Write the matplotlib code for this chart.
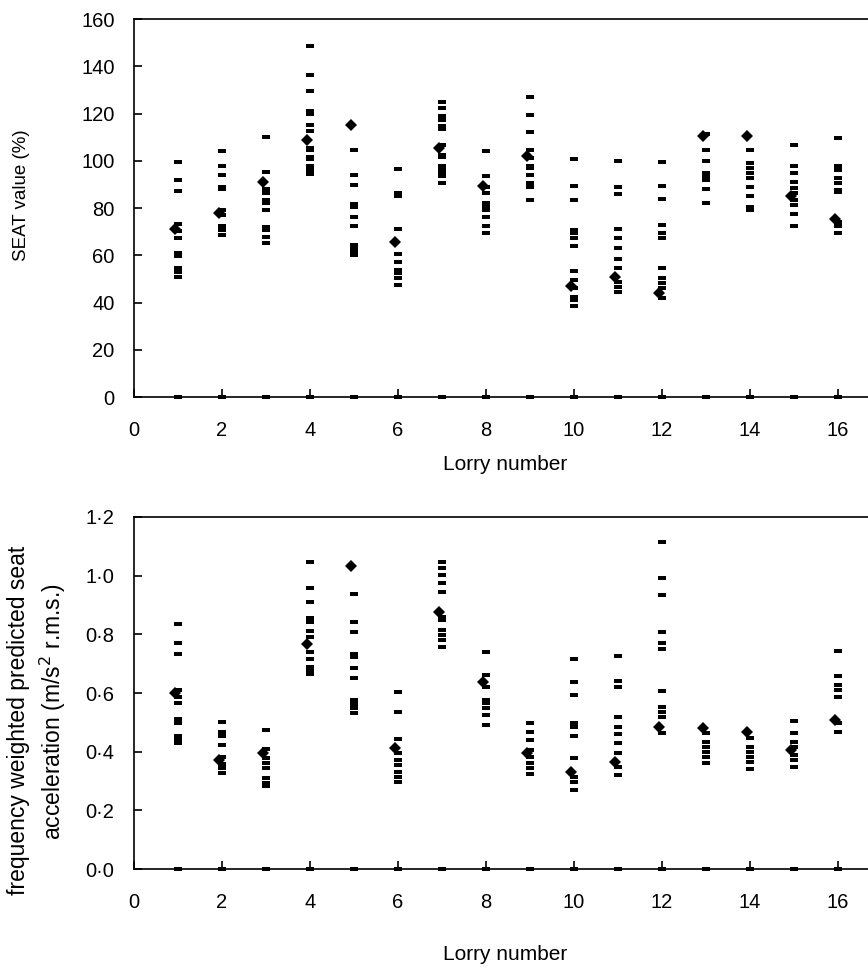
import matplotlib
matplotlib.use('Agg')
import matplotlib.pyplot as plt
from matplotlib.transforms import ScaledTranslation

plt.rcParams['font.family'] = ['Liberation Sans', 'DejaVu Sans']

# Lorry numbers 1..16
lorries = list(range(1, 17))

# SEAT values (%) for each lorry (squares), 0 marks included
seat_points = [
    [0, 99.4, 91.9, 87.3, 73.2, 70.1, 67.2, 60.9, 59.5, 54.5, 53.1, 51.0],
    [0, 104.2, 98.0, 94.1, 89.1, 88.1, 79.2, 77.1, 72.6, 70.8, 68.6],
    [0, 110.2, 95.1, 88.1, 86.3, 83.2, 82.1, 79.2, 71.9, 70.5, 67.9, 65.4],
    [0, 148.4, 136.2, 129.4, 120.9, 119.9, 115.3, 112.8, 105.4, 104.7, 101.8, 100.7, 97.6, 96.2, 94.3],
    [0, 104.7, 94.1, 89.8, 81.8, 80.6, 76.0, 72.2, 64.4, 63.0, 61.6, 60.2],
    [0, 96.6, 86.3, 85.2, 71.2, 60.6, 57.3, 53.8, 52.4, 50.3, 47.5],
    [0, 124.9, 122.3, 118.8, 117.4, 114.8, 113.4, 106.8, 102.5, 101.6, 97.6, 96.2, 94.8, 93.4, 90.5],
    [0, 104.1, 93.4, 89.1, 86.3, 82.1, 80.6, 79.2, 76.1, 72.2, 69.3],
    [0, 126.8, 119.5, 112.2, 104.7, 101.1, 97.6, 96.9, 94.1, 90.5, 89.1, 83.5],
    [0, 100.8, 89.4, 83.3, 70.8, 69.6, 67.2, 64.0, 53.4, 49.6, 46.0, 42.5, 41.1, 38.6],
    [0, 100.1, 89.1, 86.0, 71.2, 67.2, 63.0, 58.5, 54.5, 48.9, 46.7, 44.6],
    [0, 99.4, 89.4, 84.0, 72.9, 69.3, 67.2, 54.5, 50.3, 48.2, 46.0, 41.8],
    [0, 111.5, 104.7, 99.7, 94.8, 93.4, 91.9, 88.0, 82.1],
    [0, 104.7, 99.0, 96.9, 94.8, 92.6, 89.1, 84.9, 80.6, 79.2],
    [0, 106.8, 98.0, 94.8, 91.2, 88.4, 86.3, 83.5, 81.4, 77.4, 72.2],
    [0, 109.5, 97.6, 96.2, 92.6, 90.5, 87.7, 86.6, 74.3, 72.2, 69.3],
]
seat_diamond = [71.2, 78.1, 91.2, 108.9, 115.3, 65.8, 105.4, 89.5,
                102.1, 47.0, 50.7, 43.9, 110.3, 110.3, 84.9, 75.3]

# frequency weighted predicted seat acceleration (m/s2 r.m.s.)
accel_points = [
    [0, 0.835, 0.770, 0.733, 0.610, 0.585, 0.565, 0.510, 0.497, 0.455, 0.442, 0.429],
    [0, 0.500, 0.466, 0.455, 0.423, 0.383, 0.358, 0.343, 0.326],
    [0, 0.474, 0.408, 0.377, 0.360, 0.343, 0.309, 0.294, 0.283],
    [0, 1.048, 0.959, 0.911, 0.855, 0.843, 0.813, 0.792, 0.741, 0.715, 0.690, 0.678, 0.665],
    [0, 0.938, 0.841, 0.809, 0.732, 0.722, 0.684, 0.650, 0.576, 0.563, 0.548, 0.533],
    [0, 0.605, 0.536, 0.442, 0.394, 0.372, 0.355, 0.332, 0.315, 0.298],
    [0, 1.048, 1.026, 1.002, 0.974, 0.946, 0.860, 0.849, 0.815, 0.798, 0.781, 0.756],
    [0, 0.739, 0.661, 0.622, 0.576, 0.565, 0.548, 0.525, 0.491],
    [0, 0.497, 0.468, 0.440, 0.406, 0.383, 0.360, 0.343, 0.323],
    [0, 0.716, 0.636, 0.593, 0.499, 0.485, 0.453, 0.377, 0.315, 0.298, 0.269],
    [0, 0.727, 0.642, 0.622, 0.517, 0.485, 0.460, 0.429, 0.394, 0.349, 0.320],
    [0, 1.115, 0.991, 0.934, 0.807, 0.772, 0.750, 0.608, 0.553, 0.536, 0.519, 0.463],
    [0, 0.463, 0.434, 0.417, 0.400, 0.383, 0.360],
    [0, 0.446, 0.417, 0.400, 0.383, 0.366, 0.340],
    [0, 0.506, 0.463, 0.434, 0.417, 0.389, 0.372, 0.347],
    [0, 0.744, 0.659, 0.627, 0.610, 0.587, 0.497, 0.468],
]
accel_diamond = [0.599, 0.372, 0.394, 0.766, 1.034, 0.411, 0.877, 0.636,
                 0.397, 0.332, 0.366, 0.485, 0.480, 0.468, 0.406, 0.508]

x_ticks = list(range(0, 17, 2))
seat_ticks = list(range(0, 161, 20))
accel_ticks = [0.0, 0.2, 0.4, 0.6, 0.8, 1.0, 1.2]
accel_ticklabels = ['0·0', '0·2', '0·4', '0·6', '0·8', '1·0', '1·2']

# wide flat rectangle marker like the original
dash = [(-1, -0.58), (1, -0.58), (1, 0.58), (-1, 0.58), (-1, -0.58)]

fig = plt.figure(figsize=(8.68, 9.76), dpi=100)
ax1 = fig.add_axes([0.1544, 0.5932, 0.8618, 0.3873])
ax2 = fig.add_axes([0.1544, 0.1096, 0.8618, 0.3607])


def draw(ax, points, diamonds):
    shift = ScaledTranslation(-3 / 100, 0, fig.dpi_scale_trans)
    for lorry, vals in zip(lorries, points):
        ax.plot([lorry] * len(vals), vals, linestyle='none', marker=dash,
                markersize=6.2, color='black', markeredgewidth=0, clip_on=False)
    ax.plot(lorries, diamonds, linestyle='none', marker='D', markersize=6.5,
            color='black', markeredgewidth=0, clip_on=False,
            transform=ax.transData + shift)
    ax.set_xlim(0, 17)
    ax.set_xticks(x_ticks)
    for s in ['left', 'bottom', 'top']:
        ax.spines[s].set_linewidth(1.2)
    ax.spines['right'].set_visible(False)
    ax.tick_params(direction='in', length=6, width=1.2, labelsize=14.5)
    ax.tick_params(axis='x', pad=17)
    ax.tick_params(axis='y', pad=14)


draw(ax1, seat_points, seat_diamond)
ax1.set_ylim(0, 160)
ax1.set_yticks(seat_ticks)
fig.text(505 / 868, 1 - 464 / 976, 'Lorry number', ha='center', va='center',
         fontsize=15)
fig.text(22 / 868, 1 - 195 / 976, 'SEAT value (%)', rotation=90,
         ha='center', va='center', fontsize=13.5)

draw(ax2, accel_points, accel_diamond)
ax2.set_ylim(0, 1.2)
ax2.set_yticks(accel_ticks)
ax2.set_yticklabels(accel_ticklabels)
fig.text(505 / 868, 1 - 955 / 976, 'Lorry number', ha='center', va='center',
         fontsize=15)
fig.text(19 / 868, 1 - 720 / 976, 'frequency weighted predicted seat',
         rotation=90, ha='center', va='center', fontsize=16.5)
fig.text(53 / 868, 1 - 712 / 976, 'acceleration (m/s$^2$ r.m.s.)',
         rotation=90, ha='center', va='center', fontsize=16.5)

fig.savefig('out.png', dpi=100)
